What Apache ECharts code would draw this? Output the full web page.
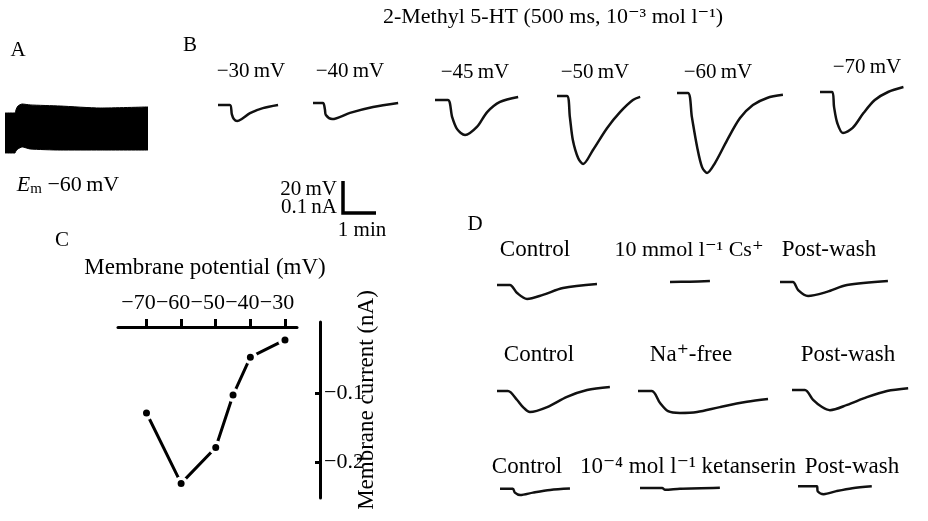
<!DOCTYPE html>
<html>
<head>
<meta charset="utf-8">
<script src="https://cdn.jsdelivr.net/npm/echarts@6/dist/echarts.min.js"></script>
<style>
  html, body { margin: 0; padding: 0; background: #fff; }
  #fig { width: 928px; height: 521px; }
</style>
</head>
<body>
<div id="fig"></div>
<script>
// Panel C: peak current vs holding potential
var ivVoltage = [-70, -60, -50, -45, -40, -30];      // mV
var ivCurrent = [-0.129, -0.231, -0.179, -0.103, -0.048, -0.023]; // nA
var ivTicksX = [-70, -60, -50, -40, -30];
var ivTicksY = [-0.1, -0.2];

// Panel A: envelope of membrane potential record (min, mV above trace floor)
var aTime = [0, 0.30, 0.33, 0.39, 0.52, 0.76, 1.67, 2.88, 4.33];
var aUpper = [27.1, 27.1, 29.0, 31.6, 32.9, 32.3, 31.6, 30.3, 31.0];
var aLower = [1.3, 1.3, 2.6, 3.9, 5.2, 3.9, 3.2, 3.2, 3.2];

// Panel B: 2-methyl 5-HT currents, [min, nA]
var bTrace30 = [[0, 0], [0.36, 0], [0.42, -0.03], [0.48, -0.045], [0.58, -0.052], [0.72, -0.045], [0.97, -0.026], [1.36, -0.01], [1.82, 0]];
var bTrace40 = [[0, 0], [0.30, 0], [0.36, -0.02], [0.39, -0.039], [0.58, -0.052], [1.12, -0.032], [1.82, -0.013], [2.58, 0]];
var bTrace45 = [[0, 0], [0.39, 0], [0.52, -0.055], [0.67, -0.094], [0.91, -0.113], [1.27, -0.087], [1.58, -0.039], [1.97, -0.006], [2.52, 0.01]];
var bTrace50 = [[0, 0], [0.30, 0], [0.39, -0.068], [0.48, -0.142], [0.64, -0.2], [0.79, -0.219], [1.09, -0.174], [1.52, -0.103], [1.91, -0.052], [2.30, -0.013], [2.52, -0.003]];
var bTrace60 = [[0, 0], [0.33, 0], [0.45, -0.077], [0.61, -0.174], [0.76, -0.239], [0.91, -0.258], [1.15, -0.226], [1.52, -0.152], [1.91, -0.081], [2.30, -0.039], [2.73, -0.016], [3.21, -0.006]];
var bTrace70 = [[0, 0], [0.45, 0], [0.52, -0.048], [0.64, -0.1], [0.85, -0.132], [1.21, -0.116], [1.61, -0.068], [2.03, -0.026], [2.52, 0], [3.09, 0.016]];

// Panel D: blockers, [min, nA]
var dCsControl = [[0, 0], [0.39, 0], [0.61, -0.026], [0.91, -0.045], [1.39, -0.032], [2.0, -0.01], [3.03, 0.003]];
var dCs = [[0, 0], [0.6, 0.001], [1.21, 0.003]];
var dCsWash = [[0, 0], [0.39, 0], [0.55, -0.026], [0.85, -0.045], [1.42, -0.032], [2.03, -0.01], [3.27, 0.003]];
var dNaControl = [[0, 0], [0.33, 0], [0.61, -0.029], [0.79, -0.052], [1.0, -0.068], [1.52, -0.052], [2.12, -0.019], [2.73, 0.003], [3.42, 0.013]];
var dNaFree = [[0, 0], [0.42, 0], [0.67, -0.039], [0.91, -0.065], [1.27, -0.071], [1.79, -0.068], [2.48, -0.052], [3.30, -0.035], [3.94, -0.026]];
var dNaWash = [[0, 0], [0.39, 0], [0.64, -0.032], [0.91, -0.055], [1.15, -0.065], [1.67, -0.048], [2.27, -0.023], [2.88, -0.003], [3.52, 0.006]];
var dKetControl = [[0, 0], [0.39, 0], [0.45, -0.035], [0.61, -0.058], [1.0, -0.035], [1.52, -0.01], [2.12, 0.003]];
var dKet = [[0, 0], [0.67, 0], [0.76, -0.016], [1.21, -0.006], [2.42, 0.003]];
var dKetWash = [[0, 0], [0.58, 0], [0.61, -0.045], [0.79, -0.068], [1.18, -0.042], [1.67, -0.016], [2.27, 0]];

var FONT = "'Liberation Serif', 'DejaVu Serif', serif";
var PX_PER_MIN = 33;
var PX_PER_NA = 310;

var myChart = echarts.init(document.getElementById('fig'), null, {renderer: 'canvas'});

var grids = [], xAxes = [], yAxes = [], series = [];

// --- panel A: black band between the two envelopes ---
grids.push({left: 5, top: 100, width: 143, height: 55});
xAxes.push({gridIndex: 0, type: 'value', min: 0, max: 4.33, show: false});
yAxes.push({gridIndex: 0, type: 'value', min: 0, max: 35.475, show: false});
series.push({
    type: 'line', xAxisIndex: 0, yAxisIndex: 0, z: 2,
    data: aTime.map(function (t, i) { return [t, aUpper[i]]; }),
    showSymbol: false, smooth: 0.2,
    lineStyle: {color: '#000', width: 1}, areaStyle: {color: '#000', opacity: 1, origin: 'start'}, silent: true
});
series.push({
    type: 'line', xAxisIndex: 0, yAxisIndex: 0, z: 3,
    data: aTime.map(function (t, i) { return [t, aLower[i]]; }),
    showSymbol: false, smooth: 0.2,
    lineStyle: {color: '#000', width: 1}, areaStyle: {color: '#fff', opacity: 1, origin: 'start'}, silent: true
});

// --- panel C: data grid (x axis on top) ---
grids.push({left: 118, top: 327, width: 179, height: 171});
xAxes.push({
    gridIndex: 1, type: 'value', position: 'top', min: -78.23, max: -26.53,
    splitLine: {show: false},
    axisLine: {onZero: false, lineStyle: {color: '#000', width: 3}},
    axisTick: {customValues: ivTicksX, length: 8, lineStyle: {color: '#000', width: 3}},
    axisLabel: {
        customValues: ivTicksX, margin: 13, color: '#000', fontFamily: FONT, fontSize: 22,
        padding: [0, 16, 0, 0],
        formatter: function (v) { return '\u2212' + Math.abs(v); }
    }
});
yAxes.push({gridIndex: 1, type: 'value', min: -0.2522, max: -0.0043, show: false});

// --- panel C: y axis on the right ---
grids.push({left: 100, top: 322, width: 220, height: 176});
xAxes.push({gridIndex: 2, type: 'value', min: 0, max: 1, show: false});
yAxes.push({
    gridIndex: 2, type: 'value', position: 'right', min: -0.2522, max: 0.0029,
    splitLine: {show: false},
    axisLine: {show: true, onZero: false, lineStyle: {color: '#000', width: 3}},
    axisTick: {show: true, inside: true, customValues: ivTicksY, length: 5, lineStyle: {color: '#000', width: 3}},
    axisLabel: {
        customValues: ivTicksY, margin: 4, color: '#000', fontFamily: FONT, fontSize: 22,
        formatter: function (v) { return '\u2212' + Math.abs(v).toFixed(1); }
    }
});

series.push({
    type: 'line', xAxisIndex: 1, yAxisIndex: 1,
    data: ivVoltage.map(function (v, i) { return [v, ivCurrent[i]]; }),
    symbol: 'circle', symbolSize: 10.5,
    itemStyle: {color: '#000', borderColor: '#fff', borderWidth: 3.5},
    lineStyle: {color: '#000', width: 3}, silent: true, z: 3
});

// --- traces for B and D ---
var traces = [
    [bTrace30, 218, 105], [bTrace40, 313, 103], [bTrace45, 435, 100],
    [bTrace50, 557, 96], [bTrace60, 677, 93], [bTrace70, 820, 92],
    [dCsControl, 497, 285], [dCs, 670, 282], [dCsWash, 780, 282],
    [dNaControl, 497, 391], [dNaFree, 638, 391], [dNaWash, 792, 390],
    [dKetControl, 500, 499], [dKet, 640, 498], [dKetWash, 798, 496]
];
for (var k = 0; k < traces.length; k++) {
    var gi = grids.length;
    grids.push({
        left: traces[k][1], top: traces[k][2] - 0.05 * PX_PER_NA,
        width: 4 * PX_PER_MIN, height: 0.35 * PX_PER_NA
    });
    xAxes.push({gridIndex: gi, type: 'value', min: 0, max: 4, show: false});
    yAxes.push({gridIndex: gi, type: 'value', min: -0.3, max: 0.05, show: false});
    series.push({
        type: 'line', xAxisIndex: gi, yAxisIndex: gi, data: traces[k][0],
        showSymbol: false, smooth: 0.3, clip: false,
        lineStyle: {color: '#111', width: 2.5}, silent: true
    });
}

// text labels
function label(text, x, y, opts) {
    opts = opts || {};
    return {
        type: 'text', x: x, y: y, rotation: opts.rotation || 0, silent: true,
        style: {
            text: text, fill: '#000', fontFamily: FONT, fontSize: opts.size || 21,
            align: opts.align || 'center', verticalAlign: 'middle', rich: opts.rich
        }
    };
}

var graphics = [
    label('A', 18, 50), label('B', 190, 45), label('C', 62, 240), label('D', 475, 224),
    label('2-Methyl 5-HT (500 ms, 10\u207B\u00B3 mol l\u207B\u00B9)', 553, 17, {size: 22}),
    label('\u221230\u2009mV', 251, 71), label('\u221240\u2009mV', 350, 71),
    label('\u221245\u2009mV', 475, 72), label('\u221250\u2009mV', 595, 72),
    label('\u221260\u2009mV', 718, 72), label('\u221270\u2009mV', 867, 67),
    label('{e|E}{s|m} \u221260\u2009mV', 68, 185, {
        size: 22,
        rich: {
            e: {fontStyle: 'italic', fontFamily: FONT, fontSize: 22},
            s: {fontFamily: FONT, fontSize: 15, padding: [9, 0, 0, 0]}
        }
    }),
    label('20\u2009mV', 337, 189, {align: 'right'}),
    label('0.1\u2009nA', 337, 207, {align: 'right'}),
    label('1 min', 362, 230),
    label('Membrane potential (mV)', 205, 268, {size: 23}),
    label('Membrane current (nA)', 367, 400, {rotation: Math.PI / 2, size: 23}),
    label('Control', 535, 250, {size: 23}), label('10 mmol l\u207B\u00B9 Cs\u207A', 689, 250, {size: 22}), label('Post-wash', 829, 250, {size: 23}),
    label('Control', 539, 355, {size: 23}), label('Na\u207A-free', 691, 355, {size: 23}), label('Post-wash', 848, 355, {size: 23}),
    label('Control', 527, 467, {size: 23}), label('10\u207B\u2074 mol l\u207B\u00B9 ketanserin', 688, 467, {size: 23}), label('Post-wash', 852, 467, {size: 23}),
    // scale bar
    {type: 'polyline', silent: true, shape: {points: [[343, 181], [343, 213], [376, 213]]},
        style: {stroke: '#000', lineWidth: 3.5, fill: null}}
];

var option = {
    backgroundColor: '#fff',
    animation: false,
    grid: grids,
    xAxis: xAxes,
    yAxis: yAxes,
    series: series,
    graphic: graphics
};
myChart.setOption(option);
</script>
</body>
</html>
